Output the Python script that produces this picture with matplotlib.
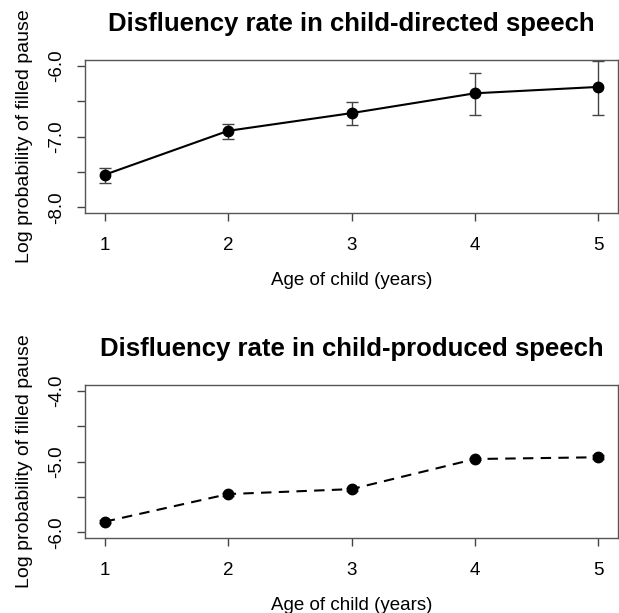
import matplotlib.pyplot as plt

plt.rcParams["font.family"] = ["Liberation Sans", "DejaVu Sans"]

ages = [1, 2, 3, 4, 5]

# child-directed speech
directed_mean = [-7.54, -6.92, -6.67, -6.39, -6.30]
directed_lo = [-7.65, -7.03, -6.84, -6.70, -6.70]
directed_hi = [-7.44, -6.83, -6.51, -6.10, -5.94]

# child-produced speech
produced_mean = [-5.85, -5.46, -5.39, -4.965, -4.94]
produced_lo = [-5.87, -5.48, -5.41, -4.985, -4.97]
produced_hi = [-5.83, -5.44, -5.37, -4.945, -4.91]

top_ticks = [-6.0, -6.5, -7.0, -7.5, -8.0]
top_labels = ["-6.0", "", "-7.0", "", "-8.0"]
bot_ticks = [-4.0, -4.5, -5.0, -5.5, -6.0]
bot_labels = ["-4.0", "", "-5.0", "", "-6.0"]


def panel(ax, mean, lo, hi, title, ls, ylim, yticks, ylabels):
    err = [[m - l for m, l in zip(mean, lo)], [h - m for m, h in zip(mean, hi)]]
    ax.errorbar(ages, mean, yerr=err, fmt="none", ecolor="#444444",
                elinewidth=1.0, capsize=4, capthick=1.0)
    ax.plot(ages, mean, color="black", lw=1.5, ls=ls, dashes=(5, 3.5) if ls == "--" else (None, None),
            marker="o", ms=7.5, mfc="black", mec="black")
    pad = 0.04 * (ylim[1] - ylim[0])
    ax.set_ylim(ylim[0] - pad, ylim[1] + pad)
    ax.set_xlim(1 - 0.16, 5 + 0.16)
    ax.set_xticks(ages)
    ax.set_yticks(yticks)
    ax.set_yticklabels(ylabels, rotation=90, va="center")
    ax.tick_params(axis="x", pad=11)
    ax.tick_params(axis="y", pad=8)
    ax.tick_params(direction="out", length=6, width=1.0, color="#444444",
                   labelsize=13.5)
    for s in ax.spines.values():
        s.set_color("#555555")
        s.set_linewidth(1.0)
    ax.set_title(title, fontsize=18.5, fontweight="bold", pad=21)
    ax.set_xlabel("Age of child (years)", fontsize=13.5, labelpad=13)
    ax.set_ylabel("Log probability of filled pause", fontsize=14, labelpad=11)


fig = plt.figure(figsize=(6.19, 6.13), dpi=100)
ax1 = fig.add_axes([85 / 619, 1 - 213 / 613, 533 / 619, 153 / 613])
ax2 = fig.add_axes([85 / 619, 1 - 538 / 613, 533 / 619, 153 / 613])

panel(ax1, directed_mean, directed_lo, directed_hi,
      "Disfluency rate in child-directed speech", "-", (-8.0, -6.0), top_ticks, top_labels)
panel(ax2, produced_mean, produced_lo, produced_hi,
      "Disfluency rate in child-produced speech", "--", (-6.0, -4.0), bot_ticks, bot_labels)

fig.savefig("out.png", dpi=100)
